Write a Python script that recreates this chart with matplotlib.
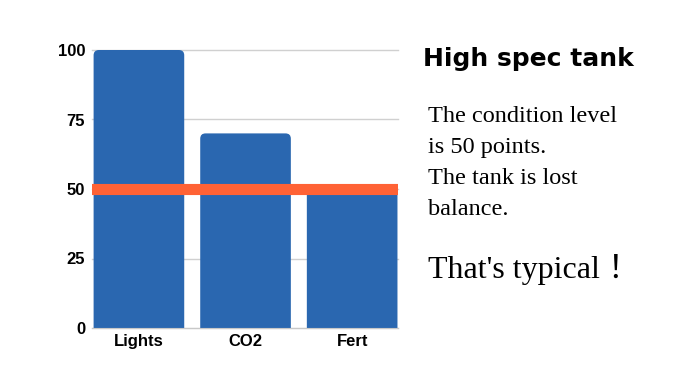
import matplotlib
matplotlib.use("Agg")
import matplotlib.pyplot as plt
from matplotlib.patches import FancyBboxPatch

categories = ["Lights", "CO2", "Fert"]
values = [100, 70, 50]
condition_level = 50
y_ticks = [0, 25, 50, 75, 100]

note_lines = ["The condition level", "is 50 points.", "The tank is lost", "balance."]

bar_color = "#2A67B0"
line_color = "#FF6235"

fig = plt.figure(figsize=(6.8, 3.9), dpi=100)
ax = fig.add_axes([92 / 680, 1 - 328 / 390, (398 - 92) / 680, (328 - 50) / 390])

bars = ax.bar(range(len(categories)), values, width=0.85, color=bar_color)

# swap the plain rectangles for ones with rounded top corners
for b in bars:
    b.set_visible(False)
    x0, w, h = b.get_x(), b.get_width(), b.get_height()
    patch = FancyBboxPatch((x0, -10), w, h + 10,
                           boxstyle="round,pad=0,rounding_size=0.05",
                           mutation_aspect=38, color=bar_color, lw=0,
                           clip_on=True, zorder=2)
    ax.add_patch(patch)

ax.axhline(condition_level, color=line_color, lw=8, zorder=3)

ax.set_xlim(-0.44, 2.43)
ax.set_ylim(0, 100)
ax.set_yticks(y_ticks)
ax.set_xticks(range(len(categories)))
ax.set_xticklabels(categories)
ax.grid(axis="y", color="#d0d0d0", lw=1, zorder=0)
for gl in ax.get_ygridlines():
    gl.set_clip_on(False)
ax.set_axisbelow(True)

for s in ["top", "right", "left"]:
    ax.spines[s].set_visible(False)
ax.spines["bottom"].set_color("#c8c8c8")
ax.tick_params(length=0, pad=4)
for lbl in ax.get_xticklabels() + ax.get_yticklabels():
    lbl.set_fontfamily("Liberation Sans")
    lbl.set_fontweight("bold")
    lbl.set_fontsize(12)
ax.tick_params(axis="y", pad=5)

fig.text(423 / 680, 1 - 66 / 390, "High spec tank", fontsize=18, fontweight="bold",
         family="DejaVu Sans", va="baseline", ha="left")

# one text per line so each baseline lands where the reference has it
for i, line in enumerate(note_lines):
    fig.text(428 / 680, 1 - (122 + 31 * i) / 390, line,
             fontsize=17.5, family="Liberation Serif", va="baseline", ha="left")

fig.text(428 / 680, 1 - 278 / 390, "That's typical！", fontsize=23,
         family=["Liberation Serif", "Noto Sans CJK JP"], va="baseline", ha="left")

fig.savefig("out.png", dpi=100)
